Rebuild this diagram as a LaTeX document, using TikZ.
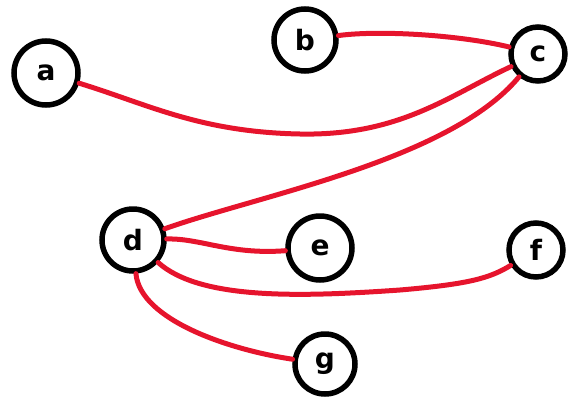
\documentclass[tikz,border=0pt]{standalone}
\usepackage{fontspec}
\setsansfont{DejaVu Sans}
\definecolor{edgered}{RGB}{230,20,45}

\begin{document}
\begin{tikzpicture}[x=1pt, y=-1pt,
  vertex/.style = {shape=circle, draw, line width=5.5pt, minimum size=62pt, inner sep=0pt, font=\sffamily\bfseries\fontsize{28}{30}\selectfont},
  link/.style = {draw=edgered, line width=5pt, line cap=round}]
  \useasboundingbox (0,0) rectangle (571,397);
  % the vertices
  \node[vertex, minimum size=64pt] (a) at (46,73) {a};
  \node[vertex, minimum size=62pt] (b) at (305,40) {b};
  \node[vertex, minimum size=54pt] (c) at (538,54) {c};
  \node[vertex, minimum size=62pt] (d) at (133,240) {d};
  \node[vertex, minimum size=64pt] (e) at (320,248) {e};
  \node[vertex, minimum size=54pt] (f) at (536,250) {f};
  \node[vertex, minimum size=60pt] (g) at (325,364) {g};
  % the edges
  \draw[link] (a) .. controls (150,105) and (200,132) .. (300,134)
    .. controls (400,136) and (450,95) .. (c);
  \draw[link] (b) .. controls (380,30) and (460,35) .. (c);
  \draw[link] (d) .. controls (260,195) and (450,160) .. (c);
  \draw[link] (d) .. controls (200,238) and (230,255) .. (e);
  \draw[link] (d) .. controls (200,300) and (300,297) .. (400,290)
    .. controls (470,284) and (490,278) .. (f);
  \draw[link] (d) .. controls (140,320) and (230,350) .. (g);
\end{tikzpicture}
\end{document}
